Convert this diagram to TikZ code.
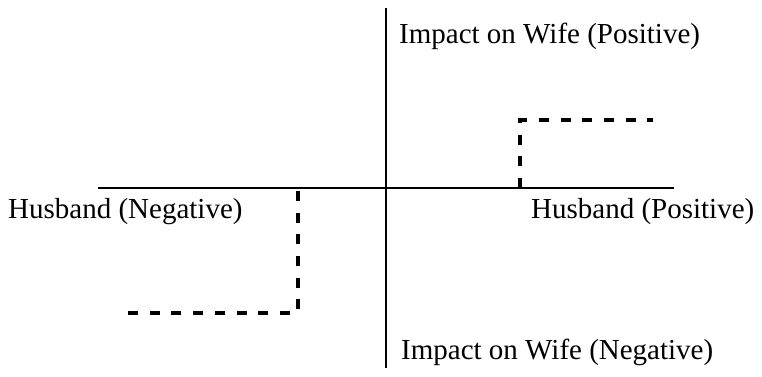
\documentclass[tikz,border=0pt]{standalone}
\usepackage{fontspec}
\setmainfont{Liberation Serif}
\begin{document}
\begin{tikzpicture}[x=1pt,y=-1pt,
  axis/.style={line width=2pt,black},
  stepline/.style={line width=4.5pt,black,dash pattern=on 10pt off 11.7pt,line cap=butt,line join=miter},
  lbl/.style={anchor=base west,inner sep=0pt,font=\fontsize{29}{33}\selectfont}]
\useasboundingbox (0,0) rectangle (762,376);
% axes
\coordinate (xl) at (98,188);
\coordinate (xr) at (674,188);
\coordinate (yt) at (385.5,8);
\coordinate (yb) at (385.5,368);
\draw[axis] (xl) -- (xr);
\draw[axis] (yt) -- (yb);
% step curves
\coordinate (rs) at (520,188);
\coordinate (rc) at (520,120);
\coordinate (re) at (653,120);
\draw[stepline] (rs) -- (rc) -- (re);
\coordinate (ls) at (128,313);
\coordinate (lc) at (298,313);
\coordinate (le) at (298,188);
\draw[stepline] (ls) -- (lc) -- (le);
% labels
\node[lbl] (wp) at (399,43) {Impact on Wife (Positive)};
\node[lbl] (wn) at (401,359) {Impact on Wife (Negative)};
\node[lbl] (hn) at (8,218) {Husband (Negative)};
\node[lbl] (hp) at (531,218) {Husband (Positive)};
\end{tikzpicture}
\end{document}
